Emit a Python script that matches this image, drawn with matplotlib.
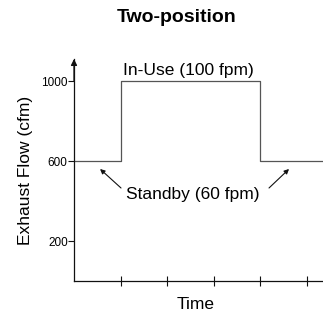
import matplotlib.pyplot as plt

plt.rcParams['font.family'] = ['Liberation Sans', 'DejaVu Sans']

# Step profile: time edges and flow (cfm)
time_points = [0, 1, 1, 4, 4, 5.35]
flow_points = [600, 600, 1000, 1000, 600, 600]
y_ticks = [200, 600, 1000]
x_ticks = [1, 2, 3, 4, 5]

fig = plt.figure(figsize=(3.23, 3.14), dpi=100)
ax = fig.add_axes([74 / 323, 33 / 314, 249 / 323, 222 / 314])

# Flow profile
ax.plot(time_points, flow_points, color='#555555', linewidth=0.9)

ax.set_xlim(0, 5.35)
ax.set_ylim(0, 1110)

# Axes styling: only left and bottom spines
for side in ['top', 'right']:
    ax.spines[side].set_visible(False)
for side in ['left', 'bottom']:
    ax.spines[side].set_color('#111111')
    ax.spines[side].set_linewidth(0.9)

ax.set_xticks(x_ticks)
ax.set_xticklabels([])
ax.tick_params(axis='x', direction='inout', length=7, width=0.8, color='#111111')
ax.set_yticks(y_ticks)
ax.tick_params(axis='y', direction='out', length=4.5, width=0.8, color='#111111',
               labelsize=8.5, pad=0)

# Arrow on top of y axis
ax.annotate('', xy=(0, 1.0), xytext=(0, 0.9), xycoords='axes fraction',
            arrowprops=dict(arrowstyle='-|>', color='#111111', lw=0.9,
                            mutation_scale=9, shrinkA=0, shrinkB=0))

# Labels
ax.set_ylabel('Exhaust Flow (cfm)', fontsize=12.5)
ax.yaxis.set_label_coords(-0.165, 0.5)
ax.set_xlabel('Time', fontsize=12.5)
ax.xaxis.set_label_coords(0.488, -0.07)

fig.text(177 / 323, 1 - 18 / 314, 'Two-position', fontsize=14, fontweight='bold',
         ha='center', va='center')

# Annotations
ax.text(2.45, 1055, 'In-Use (100 fpm)', fontsize=12.5, ha='center', va='center')
ax.text(2.56, 430, 'Standby (60 fpm)', fontsize=12.5, ha='center', va='center')
ax.annotate('', xy=(0.56, 560), xytext=(1.01, 465),
            arrowprops=dict(arrowstyle='-|>', color='#111111', lw=0.8,
                            mutation_scale=7, shrinkA=0, shrinkB=0))
ax.annotate('', xy=(4.62, 560), xytext=(4.19, 465),
            arrowprops=dict(arrowstyle='-|>', color='#111111', lw=0.8,
                            mutation_scale=7, shrinkA=0, shrinkB=0))

plt.savefig('out.png', dpi=100)
